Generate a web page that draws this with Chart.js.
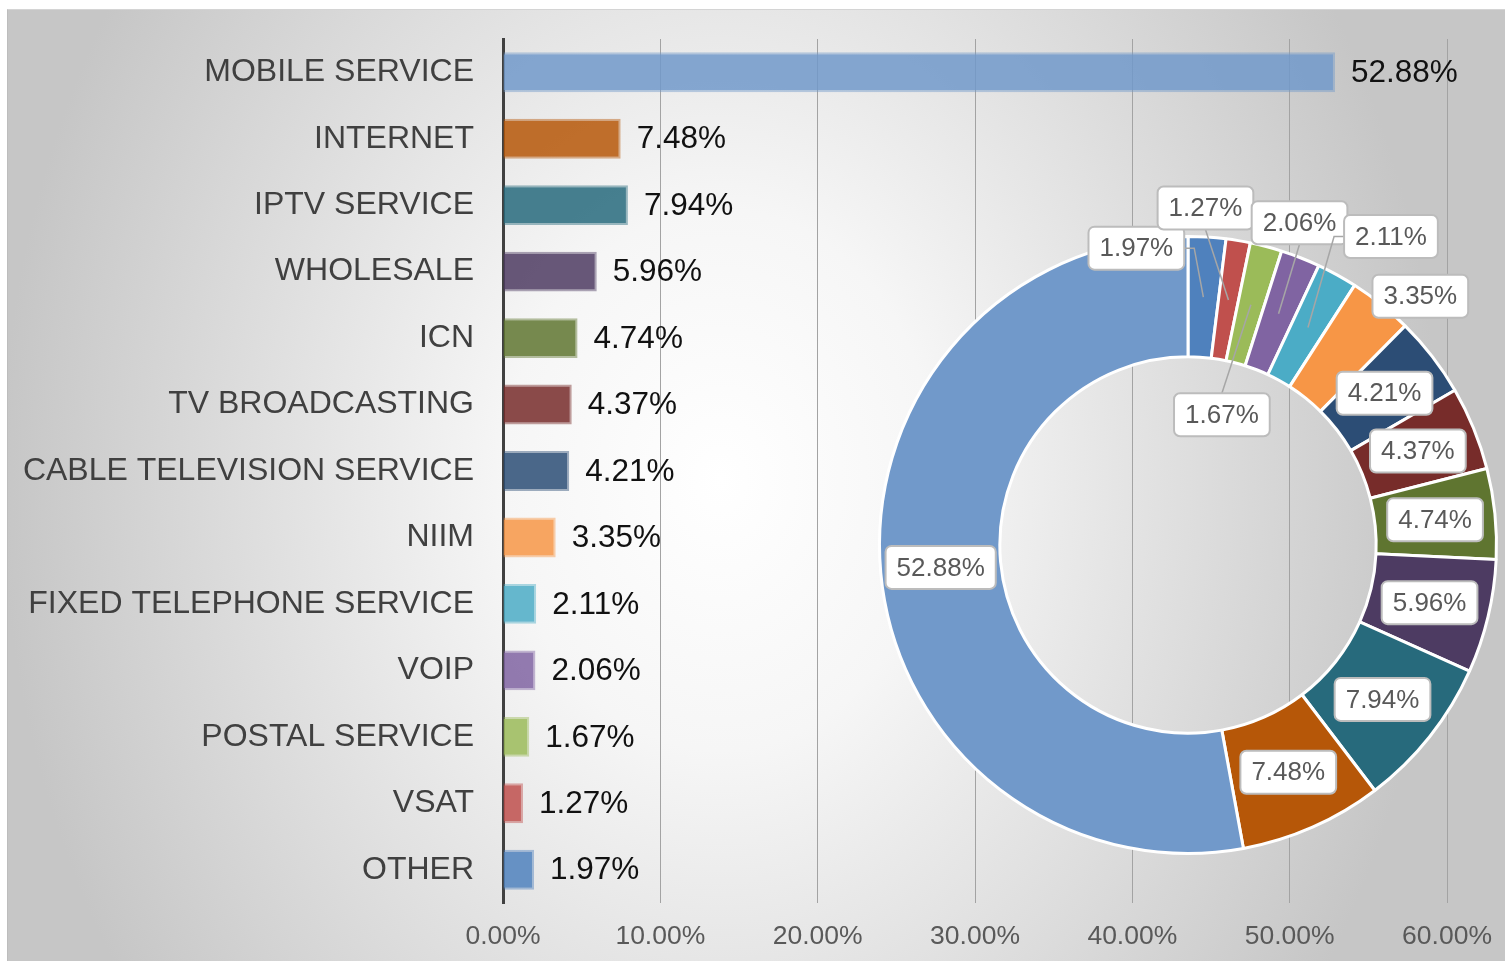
<!DOCTYPE html>
<html>
<head>
<meta charset="utf-8">
<title>Revenue share by service</title>
<script src="https://cdn.jsdelivr.net/npm/chart.js@4.4.1/dist/chart.umd.min.js"></script>
<style>
  html, body { margin: 0; padding: 0; width: 1505px; height: 961px; overflow: hidden; background: #fff; }
  #panel {
    position: absolute; left: 7px; top: 9px; width: 1498px; height: 952px; box-sizing: border-box;
    background: radial-gradient(ellipse 720px 900px at 713px 470px, #ffffff 0%, #f6f6f6 30%, #c6c6c6 100%);
    border-left: 1px solid #bdbdbd; border-top: 1px solid #d4d4d4;
  }
  #barWrap { position: absolute; left: 0; top: 0; width: 1505px; height: 961px; }
  #donutWrap { position: absolute; left: 868px; top: 165px; width: 640px; height: 760px; }
</style>
</head>
<body>
<div id="panel"></div>
<div id="barWrap"><canvas id="barChart"></canvas></div>
<div id="donutWrap"><canvas id="donutChart"></canvas></div>

<script>
// ---- data ----
const categories = [
  "MOBILE SERVICE", "INTERNET", "IPTV SERVICE", "WHOLESALE", "ICN",
  "TV BROADCASTING", "CABLE TELEVISION SERVICE", "NIIM", "FIXED TELEPHONE SERVICE",
  "VOIP", "POSTAL SERVICE", "VSAT", "OTHER"
];
const shares = [52.88, 7.48, 7.94, 5.96, 4.74, 4.37, 4.21, 3.35, 2.11, 2.06, 1.67, 1.27, 1.97];
const xTicks = [0, 10, 20, 30, 40, 50, 60];

// one colour per service (same order as categories)
const colors = [
  "#7199CA", "#B65708", "#276A7C", "#4D3B62", "#5F7530", "#772C2A", "#2C4D75",
  "#F79646", "#4BACC6", "#8064A2", "#9BBB59", "#C0504D", "#4F81BD"
];

// the ring runs from OTHER round to MOBILE SERVICE, clockwise from 12 o'clock
const ringLabels = categories.slice().reverse();
const ringValues = shares.slice().reverse();
const ringColors = colors.slice().reverse();

// label box shift from the slice centre (ring order) and whether a leader line is drawn
const labelShift = [
  [-67, -49, true], [-23, -92, true], [-29, 110, true], [21, -91, true], [83, -91, true],
  [77, -55, false], [0, 0], [0, 0], [0, 0], [0, 0], [0, 0], [0, 0], [0, 0]
];

const FONT = '"Liberation Sans", Arial, Helvetica, sans-serif';
Chart.defaults.font.family = FONT;

function alpha(hex, a) {
  const n = parseInt(hex.slice(1), 16);
  return `rgba(${(n >> 16) & 255},${(n >> 8) & 255},${n & 255},${a})`;
}

// keep the plot box where the layout padding puts it
function noScalePadding(s) {
  s.paddingTop = 0; s.paddingBottom = 0; s.paddingLeft = 0; s.paddingRight = 0;
}

/* =========================
   Bar values at the end of each bar
========================= */
const barValueLabels = {
  id: "barValueLabels",
  afterDatasetsDraw(chart) {
    const { ctx } = chart;
    const meta = chart.getDatasetMeta(0);
    ctx.save();
    ctx.font = `31.5px ${FONT}`;
    ctx.fillStyle = "#111";
    ctx.textAlign = "left";
    ctx.textBaseline = "middle";
    meta.data.forEach((bar, i) => {
      ctx.fillText(shares[i].toFixed(2) + "%", bar.x + 16, bar.y + 1);
    });
    ctx.restore();
  }
};

new Chart(document.getElementById("barChart"), {
  type: "bar",
  data: {
    labels: categories,
    datasets: [{
      data: shares,
      backgroundColor: colors.map(c => alpha(c, 0.85)),
      borderColor: colors.map(c => alpha(c, 0.45)),
      borderWidth: 2,
      barPercentage: 0.6,
      categoryPercentage: 1
    }]
  },
  options: {
    indexAxis: "y",
    responsive: true,
    maintainAspectRatio: false,
    animation: false,
    layout: { padding: { left: 0, right: 58, top: 39, bottom: 0 } },
    plugins: { legend: { display: false }, tooltip: { enabled: false } },
    scales: {
      x: {
        min: 0, max: 60,
        afterBuildTicks: s => { s.ticks = xTicks.map(v => ({ value: v })); },
        afterFit: s => { s.height = 58; noScalePadding(s); },
        grid: { color: "#a3a3a3", lineWidth: 1, drawTicks: false },
        border: { display: false },
        ticks: {
          color: "#595959",
          font: { size: 26.5 },
          padding: 18,
          callback: v => Number(v).toFixed(2) + "%"
        }
      },
      y: {
        afterFit: s => { s.width = 503; noScalePadding(s); },
        grid: { display: false, drawTicks: false },
        border: { display: true, color: "#404040", width: 3 },
        ticks: { color: "#404040", font: { size: 32 }, padding: 29 }
      }
    }
  },
  plugins: [barValueLabels]
});

/* =========================
   Ring labels in white boxes
========================= */
function roundRect(ctx, x, y, w, h, r) {
  ctx.beginPath();
  ctx.moveTo(x + r, y);
  ctx.arcTo(x + w, y, x + w, y + h, r);
  ctx.arcTo(x + w, y + h, x, y + h, r);
  ctx.arcTo(x, y + h, x, y, r);
  ctx.arcTo(x, y, x + w, y, r);
  ctx.closePath();
}

const ringValueLabels = {
  id: "ringValueLabels",
  afterDraw(chart) {
    const { ctx } = chart;
    const meta = chart.getDatasetMeta(0);
    ctx.save();
    ctx.font = `26px ${FONT}`;
    meta.data.forEach((arc, i) => {
      const p = arc.getCenterPoint();
      const s = labelShift[i];
      const cx = p.x + s[0], cy = p.y + s[1];
      const text = ringValues[i].toFixed(2) + "%";
      const w = ctx.measureText(text).width + 22, h = 43;
      const x0 = cx - w / 2, y0 = cy - h / 2;

      if (s[2]) {
        ctx.strokeStyle = "#a6a6a6";
        ctx.lineWidth = 1.5;
        ctx.beginPath();
        if (p.x > x0 && p.x < x0 + w) {
          const sy = p.y > cy ? y0 + h : y0;
          ctx.moveTo(cx, sy);
        } else {
          const sx = p.x > cx ? x0 + w : x0;
          const ex = p.x > cx ? sx + 10 : sx - 10;
          ctx.moveTo(sx, cy);
          ctx.lineTo(ex, cy);
        }
        ctx.lineTo(p.x, p.y);
        ctx.stroke();
      }

      roundRect(ctx, x0, y0, w, h, 6);
      ctx.fillStyle = "#fff";
      ctx.fill();
      ctx.strokeStyle = "#bcbcbc";
      ctx.lineWidth = 2;
      ctx.stroke();

      ctx.fillStyle = "#595959";
      ctx.textAlign = "center";
      ctx.textBaseline = "middle";
      ctx.fillText(text, cx, cy + 1);
    });
    ctx.restore();
  }
};

new Chart(document.getElementById("donutChart"), {
  type: "doughnut",
  data: {
    labels: ringLabels,
    datasets: [{
      data: ringValues,
      backgroundColor: ringColors,
      borderColor: "#ffffff",
      borderWidth: 3,
      hoverOffset: 0
    }]
  },
  options: {
    responsive: true,
    maintainAspectRatio: false,
    animation: false,
    cutout: "61%",
    layout: { padding: { left: 10, right: 10, top: 70, bottom: 70 } },
    plugins: { legend: { display: false }, tooltip: { enabled: false } }
  },
  plugins: [ringValueLabels]
});
</script>
</body>
</html>
